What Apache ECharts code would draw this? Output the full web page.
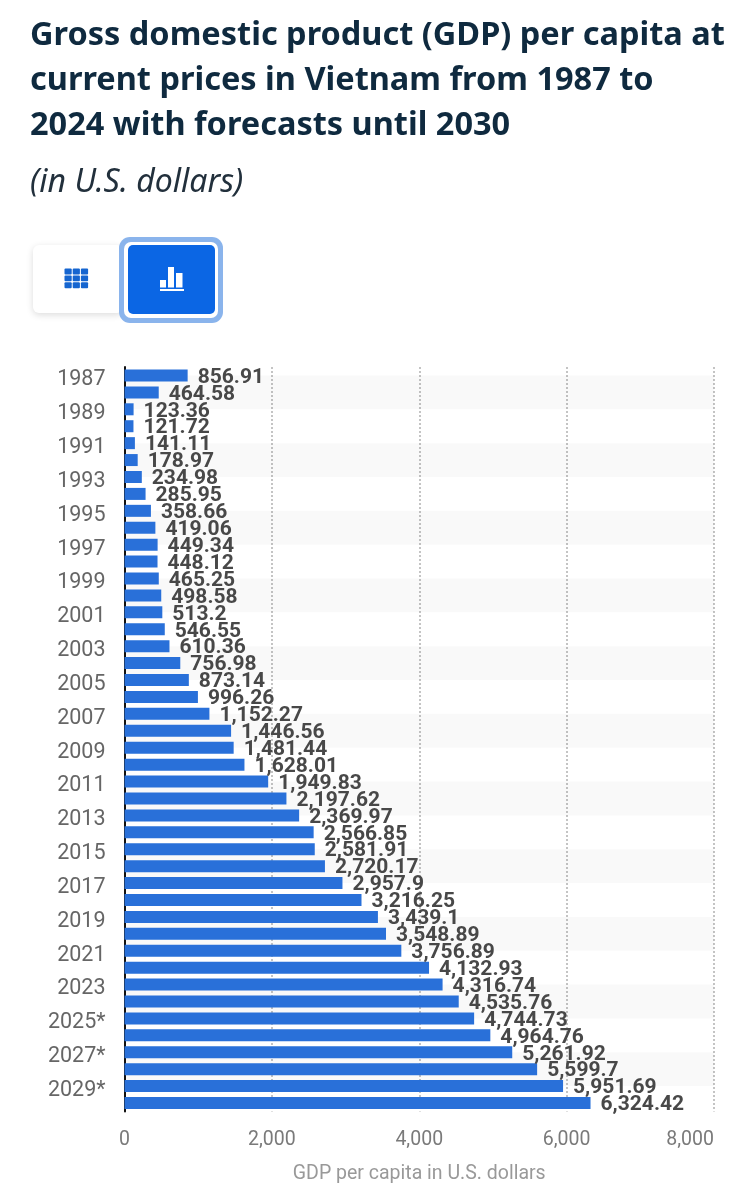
<!DOCTYPE html>
<html>
<head>
<meta charset="utf-8">
<style>
  html, body { margin: 0; padding: 0; background: #fff; }
  #chart { width: 755px; height: 1200px; }
</style>
<script src="https://cdn.jsdelivr.net/npm/echarts@6/dist/echarts.min.js"></script>
</head>
<body>
<div id="chart"></div>
<script>
const years = ['1987', '1988', '1989', '1990', '1991', '1992', '1993', '1994', '1995', '1996', '1997',
  '1998', '1999', '2000', '2001', '2002', '2003', '2004', '2005', '2006', '2007', '2008', '2009',
  '2010', '2011', '2012', '2013', '2014', '2015', '2016', '2017', '2018', '2019', '2020', '2021',
  '2022', '2023', '2024', '2025*', '2026*', '2027*', '2028*', '2029*', '2030*'];
const gdpPerCapita = [856.91, 464.58, 123.36, 121.72, 141.11, 178.97, 234.98, 285.95, 358.66, 419.06, 449.34,
  448.12, 465.25, 498.58, 513.2, 546.55, 610.36, 756.98, 873.14, 996.26, 1152.27, 1446.56, 1481.44,
  1628.01, 1949.83, 2197.62, 2369.97, 2566.85, 2581.91, 2720.17, 2957.9, 3216.25, 3439.1, 3548.89, 3756.89,
  4132.93, 4316.74, 4535.76, 4744.73, 4964.76, 5261.92, 5599.7, 5951.69, 6324.42];
const titleLines = [
  'Gross domestic product (GDP) per capita at',
  'current prices in Vietnam from 1987 to',
  '2024 with forecasts until 2030'
];

// grey bands run from one odd-year label to the next, so they need
// a plain number axis: a category axis would snap them to whole bands
const bands = [];
for (let i = 0; i + 2 < years.length; i += 4) {
  bands.push([{ yAxis: i + 0.5, xAxis: 0 }, { yAxis: i + 2.5, xAxis: 8000 }]);
}

function formatValue(v) {
  return v.toLocaleString('en-US', { maximumFractionDigits: 2 });
}

const BLUE = '#0b66e4';
const tableCells = [];
for (let r = 0; r < 3; r++) {
  for (let c = 0; c < 3; c++) {
    tableCells.push({
      type: 'rect',
      shape: { x: 64.5 + c * 8.2, y: 268.5 + r * 6.9, width: 7.2, height: 5.9, r: 1 },
      style: { fill: '#1565d0' }
    });
  }
}

const chart = echarts.init(document.getElementById('chart'), null, { renderer: 'canvas' });

chart.setOption({
  backgroundColor: '#fff',
  animation: false,
  graphic: [
    {
      type: 'rect',
      shape: { x: 33, y: 245, width: 90, height: 68, r: 6 },
      style: { fill: '#fff', shadowBlur: 7, shadowColor: 'rgba(0,0,0,0.14)', shadowOffsetY: 2 }
    },
    ...tableCells,
    { type: 'rect', shape: { x: 119, y: 237, width: 104, height: 86, r: 11 }, style: { fill: '#8ab4ec' } },
    { type: 'rect', shape: { x: 124, y: 242, width: 94, height: 76, r: 7 }, style: { fill: '#fff' } },
    { type: 'rect', shape: { x: 128, y: 245, width: 87, height: 69, r: 5 }, style: { fill: BLUE } },
    { type: 'rect', shape: { x: 160, y: 280, width: 6, height: 7.5 }, style: { fill: '#fff' } },
    { type: 'rect', shape: { x: 168, y: 267, width: 6, height: 20.5 }, style: { fill: '#fff' } },
    { type: 'rect', shape: { x: 176, y: 273, width: 6.5, height: 14.5 }, style: { fill: '#fff' } },
    { type: 'rect', shape: { x: 160, y: 289, width: 24, height: 2 }, style: { fill: '#fff' } }
  ],
  title: [
    {
      text: titleLines.join('\n'),
      left: 25,
      top: 8,
      textStyle: {
        fontFamily: 'Noto Sans',
        fontWeight: 700,
        fontSize: 32.5,
        lineHeight: 45,
        color: '#0f2a3f'
      }
    },
    {
      text: '(in U.S. dollars)',
      left: 25,
      top: 158,
      textStyle: {
        fontFamily: 'Noto Sans',
        fontStyle: 'italic',
        fontWeight: 400,
        fontSize: 32,
        lineHeight: 40,
        color: '#22303c'
      }
    }
  ],
  grid: { left: 124.5, right: 41, top: 367, height: 744.5 },
  xAxis: {
    type: 'value',
    min: 0,
    max: 8000,
    interval: 2000,
    name: 'GDP per capita in U.S. dollars',
    nameLocation: 'middle',
    nameGap: 53,
    nameTextStyle: { fontFamily: 'Roboto', fontSize: 19.5, color: '#999' },
    axisLine: { show: false },
    axisTick: { show: false },
    axisLabel: {
      fontFamily: 'Roboto',
      fontSize: 19.5,
      color: '#7a7a7a',
      margin: 19,
      alignMaxLabel: 'right',
      formatter: v => v.toLocaleString('en-US')
    },
    splitLine: { show: true, lineStyle: { type: 'dotted', color: '#c4c4c4', width: 2 } }
  },
  yAxis: [
    {
      type: 'category',
      inverse: true,
      data: years,
      axisLine: { show: true, lineStyle: { color: '#111', width: 2 } },
      axisTick: { show: false },
      axisLabel: {
        interval: 1,
        fontFamily: 'Roboto',
        fontSize: 21.5,
        color: '#666',
        margin: 19,
        verticalAlign: 'top',
        lineHeight: 9
      }
    },
    {
      type: 'value',
      inverse: true,
      min: 0,
      max: years.length,
      show: false,
      splitLine: { show: false }
    }
  ],
  series: [
    {
      type: 'bar',
      data: gdpPerCapita,
      barWidth: 12,
      itemStyle: { color: '#2970d9' },
      label: {
        show: true,
        position: 'right',
        distance: 10,
        offset: [0, 2],
        fontFamily: 'Roboto',
        fontWeight: 700,
        fontSize: 21,
        color: '#484848',
        formatter: p => formatValue(p.value)
      }
    },
    {
      type: 'scatter',
      yAxisIndex: 1,
      data: [],
      silent: true,
      z: 0,
      markArea: {
        silent: true,
        z: 0,
        itemStyle: { color: 'rgba(0,0,0,0.022)' },
        label: { show: false },
        data: bands
      }
    }
  ]
});
</script>
</body>
</html>
